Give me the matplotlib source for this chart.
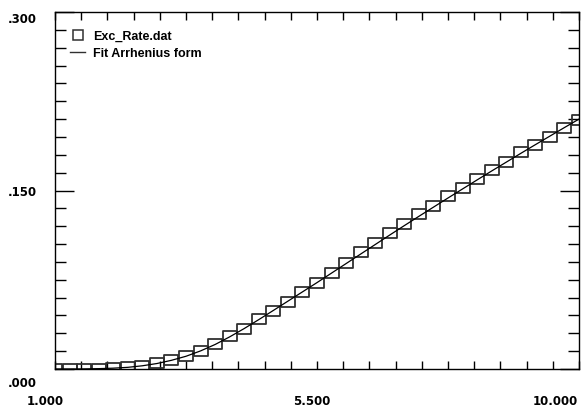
import numpy as np
import matplotlib
matplotlib.use("Agg")
import matplotlib.pyplot as plt
from matplotlib.path import Path
from matplotlib.lines import Line2D
import matplotlib.transforms as mtransforms

# data
x_data = [1.0, 1.25, 1.5, 1.75, 2.0, 2.25, 2.5, 2.75, 3.0, 3.25, 3.5, 3.75,
          4.0, 4.25, 4.5, 4.75, 5.0, 5.25, 5.5, 5.75, 6.0, 6.25, 6.5, 6.75,
          7.0, 7.25, 7.5, 7.75, 8.0, 8.25, 8.5, 8.75, 9.0, 9.25, 9.5, 9.75, 10.0]
rate = [0.0, 0.0, 0.0001, 0.0002, 0.0006, 0.0013, 0.0027, 0.0047, 0.0075,
        0.011, 0.0155, 0.021, 0.0275, 0.034, 0.042, 0.049, 0.056, 0.065,
        0.072, 0.081, 0.089, 0.098, 0.106, 0.114, 0.122, 0.130, 0.137,
        0.145, 0.152, 0.160, 0.167, 0.174, 0.182, 0.188, 0.195, 0.2025, 0.209]
fit = [0.0, 0.0, 0.0001, 0.0003, 0.0007, 0.0014, 0.0027, 0.0046, 0.0073,
       0.0107, 0.0152, 0.0206, 0.0270, 0.0340, 0.0415, 0.0492, 0.0570,
       0.0648, 0.0726, 0.0806, 0.0886, 0.0966, 0.1046, 0.1126, 0.1205,
       0.1283, 0.1360, 0.1437, 0.1513, 0.1589, 0.1664, 0.1738, 0.1812,
       0.1885, 0.1957, 0.2029, 0.2100]

x_labels = ["1.000", "5.500", "10.000"]
x_major = [1.0, 5.5, 10.0]
y_labels = [".000", ".150", ".300"]
y_major = [0.0, 0.15, 0.3]

fig = plt.figure(figsize=(5.81, 4.07), dpi=100)
ax = fig.add_axes([55 / 581, 38 / 407, 524 / 581, 357 / 407])

rect = Path([(-0.7, -0.5), (0.7, -0.5), (0.7, 0.5), (-0.7, 0.5), (-0.7, -0.5)],
            [Path.MOVETO, Path.LINETO, Path.LINETO, Path.LINETO, Path.CLOSEPOLY])

ax.plot(x_data, rate, linestyle="none", marker=rect, markersize=10.5,
        markerfacecolor="none", markeredgecolor="#303030", markeredgewidth=1.3)
ax.plot(x_data, fit, color="black", linewidth=0.9)

ax.set_xlim(1, 10)
ax.set_ylim(0, 0.3)

for s in ax.spines.values():
    s.set_linewidth(1.0)

ax.set_xticks(x_major)
ax.set_xticklabels(x_labels)
ax.set_xticks(np.linspace(1, 10, 21), minor=True)
ax.set_yticks(y_major)
ax.set_yticklabels(y_labels)
ax.set_yticks(np.linspace(0, 0.3, 21), minor=True)

ax.tick_params(axis="x", which="both", direction="in", top=True, bottom=True,
               length=5.5, width=1.0, pad=19)
ax.tick_params(axis="y", which="minor", direction="in", left=True, right=True,
               length=8, width=1.0)
ax.tick_params(axis="y", which="major", direction="in", left=True, right=True,
               length=14, width=1.0, pad=13)

for lab in ax.get_xticklabels() + ax.get_yticklabels():
    lab.set_fontfamily("DejaVu Sans")
    lab.set_fontweight("bold")
    lab.set_fontsize(8.5)

# shift labels like the original renderer places them
def shift(lab, dx, dy):
    lab.set_transform(lab.get_transform() +
                      mtransforms.ScaledTranslation(dx / 100, dy / 100, fig.dpi_scale_trans))

xl = ax.get_xticklabels()
shift(xl[0], -9.5, 0)
shift(xl[1], -5.5, 0)
shift(xl[2], -24, 0)
yl = ax.get_yticklabels()
shift(yl[0], 0, -13)
shift(yl[2], 0, -6)

handles = [
    Line2D([], [], linestyle="none", marker="s", markersize=7,
           markerfacecolor="none", markeredgecolor="#303030", markeredgewidth=1.1),
    Line2D([], [], color="#303030", linewidth=1.0),
]
leg = ax.legend(handles, ["Exc_Rate.dat", "Fit Arrhenius form"],
                loc="upper left", bbox_to_anchor=(0.029, 0.948), frameon=False,
                borderpad=0, borderaxespad=0, handlelength=1.2,
                handletextpad=0.6, labelspacing=0.4,
                prop={"family": "Liberation Sans", "weight": "bold", "size": 9})

fig.savefig("out.png", dpi=100)
